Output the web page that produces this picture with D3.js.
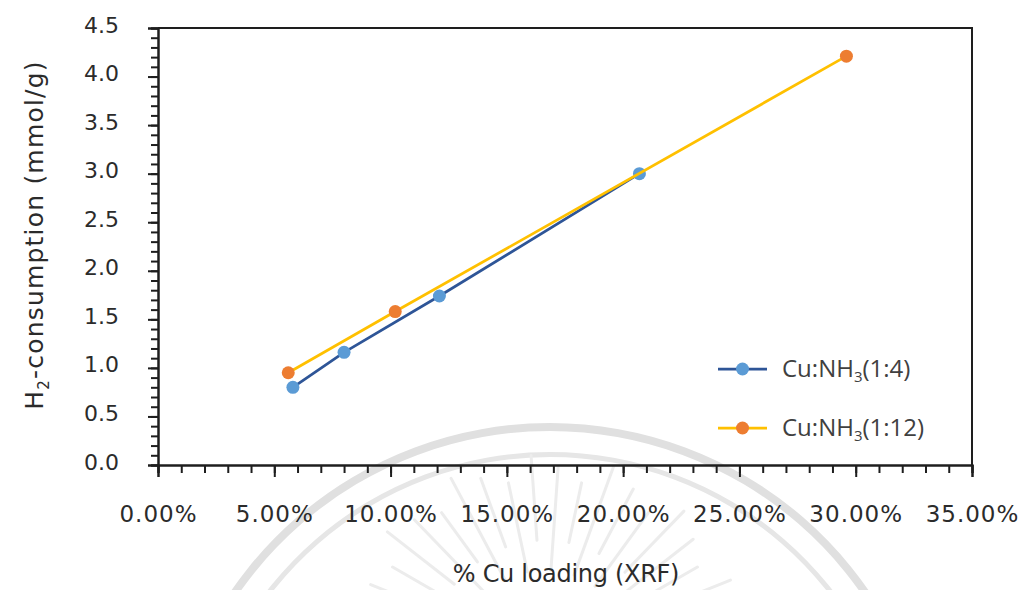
<!DOCTYPE html>
<html>
<head>
<meta charset="utf-8">
<script src="https://cdn.jsdelivr.net/npm/d3@7"></script>
<style>
  html, body { margin: 0; padding: 0; background: #ffffff; }
  svg { display: block; }
</style>
</head>
<body>
<svg id="chart" width="1026" height="590"></svg>
<script>
// Cu loading (XRF, %) vs. H2 consumption (mmol/g) for two Cu:NH3 ratios
const loading_1_4 = [5.8, 8.0, 12.1, 20.7];
const h2_1_4      = [0.80, 1.16, 1.74, 3.00];
const loading_1_12 = [5.6, 10.2, 29.6];
const h2_1_12      = [0.95, 1.58, 4.21];

const seriesNames = ["1:4", "1:12"];
const xTickValues = [0, 5, 10, 15, 20, 25, 30, 35];
const yTickValues = [0, 0.5, 1, 1.5, 2, 2.5, 3, 3.5, 4, 4.5];

const svg = d3.select("#chart");
const plot = { left: 158, right: 972, top: 28, bottom: 465 };

const x = d3.scaleLinear().domain([0, 35]).range([plot.left, plot.right]);
const y = d3.scaleLinear().domain([0, 4.5]).range([plot.bottom, plot.top]);

// faint emblem in the background
const emblem = svg.append("g");
const ec = { x: 550, y: 810 };
const arc = d3.arc();
emblem.append("path")
  .attr("transform", `translate(${ec.x},${ec.y})`)
  .attr("d", arc({ innerRadius: 379, outerRadius: 387, startAngle: -Math.PI / 2.2, endAngle: Math.PI / 2.2 }))
  .attr("fill", "#e0e0e0");
emblem.append("path")
  .attr("transform", `translate(${ec.x},${ec.y})`)
  .attr("d", arc({ innerRadius: 353, outerRadius: 358, startAngle: -Math.PI / 2.2, endAngle: Math.PI / 2.2 }))
  .attr("fill", "#e6e6e6");
const rc = { x: 545, y: 655 };
d3.range(-76, 77, 8).forEach((a, i) => {
  const t = (a - 90) * Math.PI / 180;
  const r0 = 85 + (i % 2) * 30, r1 = 200 - (i % 3) * 12;
  emblem.append("line")
    .attr("x1", rc.x + r0 * Math.cos(t)).attr("y1", rc.y + r0 * Math.sin(t))
    .attr("x2", rc.x + r1 * Math.cos(t)).attr("y2", rc.y + r1 * Math.sin(t))
    .attr("stroke", "#ececec").attr("stroke-width", 3).attr("stroke-linecap", "round");
});

// frame (top and right)
const axisColor = "#1e1e1e";
svg.append("path")
  .attr("d", `M${plot.left},${plot.top}H${plot.right}V${plot.bottom}`)
  .attr("fill", "none").attr("stroke", axisColor).attr("stroke-width", 2);

// x axis: minor ticks every 1 %, major every 5 %
const xMinor = svg.append("g").attr("transform", `translate(0,${plot.bottom})`)
  .call(d3.axisBottom(x).tickValues(d3.range(0, 35.01, 1)).tickSize(8).tickFormat(""));
const xMajor = svg.append("g").attr("transform", `translate(0,${plot.bottom})`)
  .call(d3.axisBottom(x).tickValues(xTickValues).tickSize(12).tickPadding(0)
    .tickFormat(d => d3.format(".2f")(d) + "%"));

// y axis: minor ticks every 0.1, major every 0.5
const yMinor = svg.append("g").attr("transform", `translate(${plot.left},0)`)
  .call(d3.axisLeft(y).tickValues(d3.range(0, 4.501, 0.1)).tickSize(7).tickFormat(""));
const yMajor = svg.append("g").attr("transform", `translate(${plot.left},0)`)
  .call(d3.axisLeft(y).tickValues(yTickValues).tickSize(10).tickFormat(d3.format(".1f")));

[xMinor, xMajor, yMinor, yMajor].forEach(g => {
  g.select(".domain").attr("stroke", axisColor).attr("stroke-width", 2);
  g.selectAll(".tick line").attr("stroke", axisColor).attr("stroke-width", 2);
});

const textColor = "#2b2b2b";

xMajor.selectAll(".tick text")
  .attr("y", 0).attr("dy", 0)
  .attr("transform", "translate(0,57)")
  .attr("font-family", "DejaVu Sans").attr("font-size", 23)
  .attr("letter-spacing", "1px")
  .attr("fill", textColor);

yMajor.selectAll(".tick text")
  .attr("x", -39).attr("dy", 0).attr("y", 4)
  .attr("text-anchor", "end")
  .attr("font-family", "DejaVu Sans").attr("font-size", 22)
  .attr("fill", textColor);

// axis titles
svg.append("text")
  .attr("x", (plot.left + plot.right) / 2 + 1).attr("y", 582)
  .attr("text-anchor", "middle")
  .attr("font-family", "DejaVu Sans").attr("font-size", 24)
  .attr("letter-spacing", "-0.3px")
  .attr("fill", textColor)
  .text("% Cu loading (XRF)");

const yTitle = svg.append("text")
  .attr("transform", "translate(43,235) rotate(-90)")
  .attr("text-anchor", "middle")
  .attr("font-family", "DejaVu Sans").attr("font-size", 25)
  .attr("letter-spacing", "1.2px")
  .attr("fill", textColor);
yTitle.append("tspan").text("H");
yTitle.append("tspan").attr("font-size", 15).attr("dy", 6).text("2");
yTitle.append("tspan").attr("dy", -6).text("-consumption (mmol/g)");

// series
const series = [
  { name: seriesNames[0], xs: loading_1_4, ys: h2_1_4, line: "#2E5597", marker: "#5B9BD5" },
  { name: seriesNames[1], xs: loading_1_12, ys: h2_1_12, line: "#FFC000", marker: "#ED7D31" }
];

const lineGen = d3.line().x(d => x(d[0])).y(d => y(d[1]));

series.forEach(s => {
  const pts = s.xs.map((v, i) => [v, s.ys[i]]);
  const g = svg.append("g");
  g.append("path")
    .datum(pts)
    .attr("d", lineGen)
    .attr("fill", "none")
    .attr("stroke", s.line)
    .attr("stroke-width", 2.75)
    .attr("stroke-linejoin", "round");
  g.selectAll("circle")
    .data(pts)
    .join("circle")
    .attr("cx", d => x(d[0]))
    .attr("cy", d => y(d[1]))
    .attr("r", 6.5)
    .attr("fill", s.marker);
});

// legend
const legend = svg.append("g");
series.forEach((s, i) => {
  const ly = 369 + i * 59;
  legend.append("line")
    .attr("x1", 718).attr("x2", 767).attr("y1", ly).attr("y2", ly)
    .attr("stroke", s.line).attr("stroke-width", 2.75);
  legend.append("circle")
    .attr("cx", 742.5).attr("cy", ly).attr("r", 6.5)
    .attr("fill", s.marker);
  const t = legend.append("text")
    .attr("x", 782).attr("y", ly + 8)
    .attr("font-family", "Open Sans").attr("font-size", 24)
    .attr("fill", "#404040");
  t.append("tspan").text("Cu:NH");
  t.append("tspan").attr("font-size", 15).attr("dy", 5).text("3");
  t.append("tspan").attr("dy", -5).text(`(${s.name})`);
});
</script>
</body>
</html>
